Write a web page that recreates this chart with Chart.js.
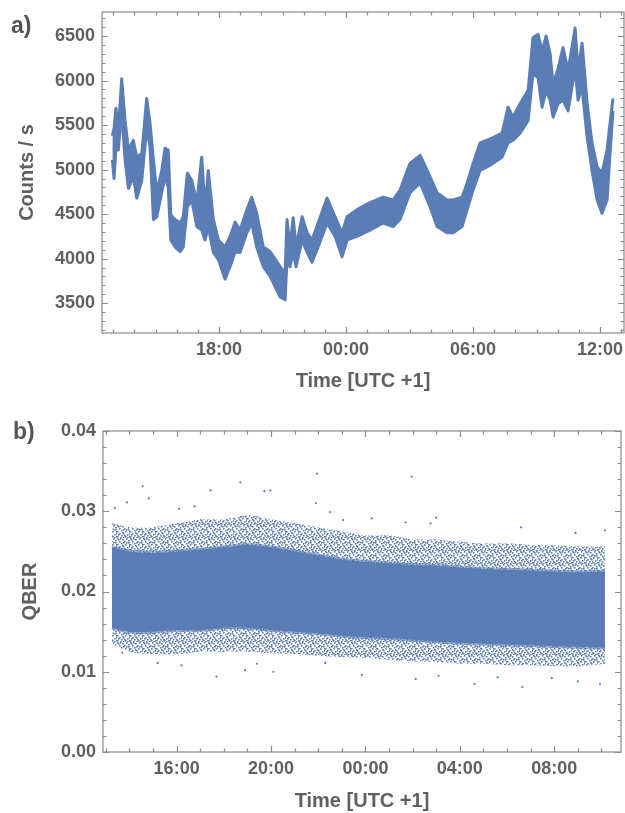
<!DOCTYPE html>
<html>
<head>
<meta charset="utf-8">
<script src="https://cdn.jsdelivr.net/npm/chart.js"></script>
<style>
  body { margin: 0; background: #fff; }
  .panel { position: absolute; left: 0; width: 625px; }
</style>
</head>
<body>
<div class="panel" style="top:0;height:395px"><canvas id="chartA" width="625" height="395"></canvas></div>
<div class="panel" style="top:395px;height:418px"><canvas id="chartB" width="625" height="418"></canvas></div>
<script>
// time in hours after midnight of the first day (24 = 00:00 next day)
// panel a: upper and lower edge of the count-rate band
const timeA = [12.96, 13.04, 13.13, 13.24, 13.40, 13.56, 13.72, 13.95, 14.11, 14.35, 14.58, 14.74, 14.90, 15.06,
  15.29, 15.45, 15.60, 15.72, 15.92, 16.16, 16.31, 16.50, 16.71, 16.95, 17.18, 17.34, 17.49, 17.73, 17.97, 18.28,
  18.52, 18.76, 18.99, 19.31, 19.54, 19.78, 20.09, 20.41, 20.88, 21.12, 21.21, 21.35, 21.50, 21.64, 21.92, 22.16,
  22.39, 22.68, 23.10, 23.48, 23.81, 24.05, 24.52, 25.13, 25.75, 26.22, 26.55, 27.02, 27.50, 27.97, 28.30, 28.77,
  29.06, 29.48, 29.72, 30.00, 30.33, 30.66, 30.94, 31.37, 31.65, 31.89, 32.22, 32.60, 32.83, 33.07, 33.26, 33.45,
  33.64, 33.78, 34.02, 34.25, 34.49, 34.82, 34.96, 35.15, 35.39, 35.62, 35.86, 36.09, 36.33, 36.47, 36.61];
const countsHigh = [5380, 5470, 5690, 5440, 6020, 5550, 5220, 5330, 5140, 5180, 5800, 5520, 5110, 4740,
  4990, 5240, 5220, 4490, 4440, 4400, 4470, 4960, 4880, 4630, 5140, 4550, 4990, 4440, 4210, 4130,
  4250, 4410, 4320, 4550, 4690, 4510, 4130, 4080, 3910, 3840, 4440, 4130, 4460, 4130, 4470, 4290,
  4210, 4400, 4680, 4470, 4290, 4470, 4550, 4630, 4690, 4660, 4770, 5070, 5160, 4920, 4740, 4660,
  4660, 4690, 4850, 5070, 5300, 5330, 5360, 5410, 5700, 5590, 5740, 5890, 6480, 6520, 6330, 6500,
  6300, 5960, 6140, 6370, 6110, 6590, 6110, 6420, 5740, 5300, 5030, 4960, 5220, 5520, 5800];
const countsLow = [5110, 4900, 5250, 5220, 5660, 5110, 4790, 4920, 4680, 4880, 5470, 5250, 4440, 4470,
  4740, 4920, 4800, 4210, 4130, 4080, 4130, 4580, 4660, 4360, 4320, 4210, 4360, 4070, 3990, 3770,
  3910, 4080, 4070, 4290, 4400, 4130, 3910, 3800, 3570, 3540, 3990, 3910, 4070, 3910, 4210, 4070,
  3960, 4130, 4400, 4250, 4020, 4210, 4250, 4320, 4400, 4360, 4440, 4740, 4850, 4580, 4360, 4290,
  4290, 4360, 4550, 4770, 4990, 5030, 5070, 5140, 5300, 5330, 5410, 5550, 6080, 6030, 5700, 5890,
  5780, 5590, 5740, 5780, 5660, 6140, 5780, 5920, 5360, 4990, 4660, 4510, 4660, 5180, 5660];

// panel b: QBER cloud, dense core and sparse halo edges
const timeB = [13.26, 14, 15, 16, 17, 18, 19, 20, 21, 22, 23, 24, 25, 26, 27, 28, 29, 30, 31, 32, 33, 34.15];
const haloHigh = [0.0285, 0.0280, 0.0280, 0.0285, 0.0290, 0.0290, 0.0295, 0.0290, 0.0285, 0.0280, 0.0275,
  0.0270, 0.0270, 0.0265, 0.0265, 0.0262, 0.0260, 0.0260, 0.0258, 0.0258, 0.0256, 0.0256];
const coreHigh = [0.0255, 0.0250, 0.0248, 0.0250, 0.0252, 0.0255, 0.0258, 0.0255, 0.0250, 0.0245, 0.0240,
  0.0237, 0.0235, 0.0233, 0.0232, 0.0230, 0.0228, 0.0227, 0.0226, 0.0225, 0.0224, 0.0225];
const coreLow = [0.0155, 0.0150, 0.0150, 0.0152, 0.0152, 0.0155, 0.0155, 0.0152, 0.0150, 0.0148, 0.0145,
  0.0143, 0.0142, 0.0140, 0.0138, 0.0136, 0.0135, 0.0134, 0.0133, 0.0132, 0.0131, 0.0130];
const haloLow = [0.0135, 0.0125, 0.0122, 0.0122, 0.0125, 0.0125, 0.0125, 0.0123, 0.0122, 0.0120, 0.0118,
  0.0117, 0.0115, 0.0113, 0.0112, 0.0110, 0.0110, 0.0108, 0.0108, 0.0107, 0.0107, 0.0110];
// single stray points outside the cloud
const outlierTime = [14.56, 14.82, 18.70, 17.44, 19.97, 19.72, 13.38, 13.90, 16.10, 16.76, 21.95, 25.96, 21.90,
  22.50, 24.27, 27.00, 26.76, 30.60, 34.15, 32.90, 25.70, 23.05,
  17.69, 18.90, 20.10, 13.70, 16.20, 19.40, 15.20, 26.13, 28.62, 30.65, 23.85, 27.10, 33.94, 33.00, 31.90, 22.30, 29.60];
const outlierQber = [0.0331, 0.0316, 0.0336, 0.0326, 0.0326, 0.0325, 0.0304, 0.0311, 0.0303, 0.0306, 0.0347, 0.0343, 0.0310,
  0.0299, 0.0291, 0.0292, 0.0285, 0.0280, 0.0276, 0.0273, 0.0286, 0.0289,
  0.0094, 0.0102, 0.0100, 0.0124, 0.0108, 0.0110, 0.0111, 0.0091, 0.0085, 0.0081, 0.0096, 0.0095, 0.0085, 0.0088, 0.0092, 0.0111, 0.0093];

const blue = '#5a7db5';
const textGray = '#606060';
const frameGray = '#8a8a8a';

Chart.defaults.font.family = '"Liberation Sans", Arial, sans-serif';
Chart.defaults.font.weight = 'bold';
Chart.defaults.color = textGray;

function pts(xs, ys) {
    return xs.map((x, i) => ({ x: x, y: ys[i] }));
}

function clock(h) {
    let hh = ((h % 24) + 24) % 24;
    return (hh < 10 ? '0' : '') + hh + ':00';
}

// ticks at every multiple of step inside the axis range
function stepTicks(step) {
    return (s) => {
        const out = [];
        for (let k = Math.ceil(s.min / step - 1e-9); k * step <= s.max + step * 1e-6; k++) {
            out.push({ value: k * step });
        }
        s.ticks = out;
    };
}

function isMultiple(v, m) {
    return Math.abs(v / m - Math.round(v / m)) < 1e-6;
}

// keep the plot box exactly where it is in the reference
function fixBox(size, vertical) {
    return (s) => {
        if (vertical) s.width = size; else s.height = size;
        s.paddingTop = 0; s.paddingBottom = 0; s.paddingLeft = 0; s.paddingRight = 0;
    };
}

// speckled fill for the thin edges of the QBER cloud (hand placed dots, 13px tile)
const speckDots = [[0, 0], [5, 1], [9, 0], [2, 3], [7, 3], [11, 2], [4, 5], [12, 6], [0, 6], [8, 6],
  [2, 8], [6, 8], [10, 9], [4, 10], [0, 11], [8, 11], [12, 11], [3, 12], [6, 12], [11, 4], [1, 1],
  [9, 4], [5, 7], [10, 12], [1, 9], [7, 10], [3, 0], [12, 8], [6, 4]];
function speckle(color) {
    const c = document.createElement('canvas');
    c.width = 13; c.height = 13;
    const g = c.getContext('2d');
    g.fillStyle = color;
    speckDots.forEach(d => g.fillRect(d[0], d[1], 1.6, 1.6));
    return g.createPattern(c, 'repeat');
}

// frame on four sides with inward ticks, longer where a label sits
const frameTicks = {
    id: 'frameTicks',
    afterDraw(chart, args, opts) {
        const { ctx, chartArea: a, scales } = chart;
        ctx.save();
        ctx.strokeStyle = frameGray;
        ctx.lineWidth = 1.2;
        ctx.strokeRect(a.left, a.top, a.right - a.left, a.bottom - a.top);
        ctx.beginPath();
        scales.x.ticks.forEach(t => {
            const p = Math.round(scales.x.getPixelForValue(t.value)) + 0.5;
            const len = t.label ? 6 : 3.5;
            ctx.moveTo(p, a.bottom); ctx.lineTo(p, a.bottom - len);
            ctx.moveTo(p, a.top); ctx.lineTo(p, a.top + len);
        });
        scales.y.ticks.forEach(t => {
            const p = Math.round(scales.y.getPixelForValue(t.value)) + 0.5;
            const len = t.label ? 6 : 3.5;
            ctx.moveTo(a.left, p); ctx.lineTo(a.left + len, p);
            ctx.moveTo(a.right, p); ctx.lineTo(a.right - len, p);
        });
        ctx.stroke();
        ctx.fillStyle = '#555';
        ctx.font = 'bold 23px "Liberation Sans", Arial, sans-serif';
        ctx.textBaseline = 'alphabetic';
        ctx.fillText(opts.text, opts.x, opts.y);
        ctx.restore();
    }
};

const ctxA = document.getElementById('chartA').getContext('2d');
const chartA = new Chart(ctxA, {
    type: 'line',
    data: {
        datasets: [{
            data: pts(timeA, countsLow),
            borderColor: blue,
            borderWidth: 3,
            pointRadius: 0,
            fill: false
        }, {
            data: pts(timeA, countsHigh),
            borderColor: blue,
            borderWidth: 3,
            pointRadius: 0,
            backgroundColor: blue,
            fill: '-1'
        }]
    },
    options: {
        responsive: false,
        animation: false,
        events: [],
        layout: { padding: { left: 0, right: 1, top: 12, bottom: 0 } },
        elements: { line: { tension: 0, borderJoinStyle: 'round' } },
        plugins: {
            legend: { display: false },
            tooltip: { enabled: false },
            frameTicks: { text: 'a)', x: 11, y: 33 }
        },
        scales: {
            x: {
                type: 'linear',
                min: 12.47,
                max: 37.13,
                grid: { display: false, drawTicks: false },
                border: { display: false },
                afterBuildTicks: stepTicks(1),
                ticks: {
                    autoSkip: false,
                    maxRotation: 0,
                    padding: 6,
                    font: { size: 18 },
                    callback: (v) => (isMultiple(v, 6) ? clock(Math.round(v)) : '')
                },
                title: { display: true, text: 'Time [UTC +1]', font: { size: 20 }, padding: { top: 0, bottom: 2 } },
                afterFit: fixBox(62, false)
            },
            y: {
                min: 3165,
                max: 6770,
                grid: { display: false, drawTicks: false },
                border: { display: false },
                afterBuildTicks: stepTicks(100),
                ticks: {
                    autoSkip: false,
                    padding: 7,
                    font: { size: 18 },
                    callback: (v) => (isMultiple(v, 500) ? String(Math.round(v)) : '')
                },
                title: { display: true, text: 'Counts / s', font: { size: 20 }, padding: { top: 15, bottom: 0 } },
                afterFit: fixBox(102, true)
            }
        }
    },
    plugins: [frameTicks]
});

const ctxB = document.getElementById('chartB').getContext('2d');
const chartB = new Chart(ctxB, {
    type: 'line',
    data: {
        datasets: [{
            data: pts(timeB, haloLow),
            borderWidth: 0,
            pointRadius: 0,
            fill: false
        }, {
            data: pts(timeB, haloHigh),
            borderWidth: 0,
            pointRadius: 0,
            backgroundColor: speckle(blue),
            fill: '-1'
        }, {
            data: pts(timeB, coreLow),
            borderColor: 'rgba(90,125,181,0.6)',
            borderWidth: 4,
            pointRadius: 0,
            fill: false
        }, {
            data: pts(timeB, coreHigh),
            borderColor: 'rgba(90,125,181,0.6)',
            borderWidth: 4,
            pointRadius: 0,
            backgroundColor: blue,
            fill: '-1'
        }, {
            data: pts(outlierTime, outlierQber),
            showLine: false,
            pointRadius: 1.1,
            pointBackgroundColor: blue,
            pointBorderWidth: 0
        }]
    },
    options: {
        responsive: false,
        animation: false,
        events: [],
        layout: { padding: { left: 0, right: 2, top: 36, bottom: 0 } },
        elements: { line: { tension: 0.3 } },
        plugins: {
            legend: { display: false },
            tooltip: { enabled: false },
            frameTicks: { text: 'b)', x: 13, y: 44 }
        },
        scales: {
            x: {
                type: 'linear',
                min: 12.88,
                max: 34.83,
                grid: { display: false, drawTicks: false },
                border: { display: false },
                afterBuildTicks: stepTicks(1),
                ticks: {
                    autoSkip: false,
                    maxRotation: 0,
                    padding: 6,
                    font: { size: 18 },
                    callback: (v) => (isMultiple(v, 4) ? clock(Math.round(v)) : '')
                },
                title: { display: true, text: 'Time [UTC +1]', font: { size: 20 }, padding: { top: 0, bottom: 0 } },
                afterFit: fixBox(61, false)
            },
            y: {
                min: 0,
                max: 0.04,
                grid: { display: false, drawTicks: false },
                border: { display: false },
                afterBuildTicks: stepTicks(0.002),
                ticks: {
                    autoSkip: false,
                    padding: 7,
                    font: { size: 18 },
                    callback: (v) => (isMultiple(v, 0.01) ? v.toFixed(2) : '')
                },
                title: { display: true, text: 'QBER', font: { size: 20 }, padding: { top: 18, bottom: 0 } },
                afterFit: fixBox(103, true)
            }
        }
    },
    plugins: [frameTicks]
});
</script>
</body>
</html>
